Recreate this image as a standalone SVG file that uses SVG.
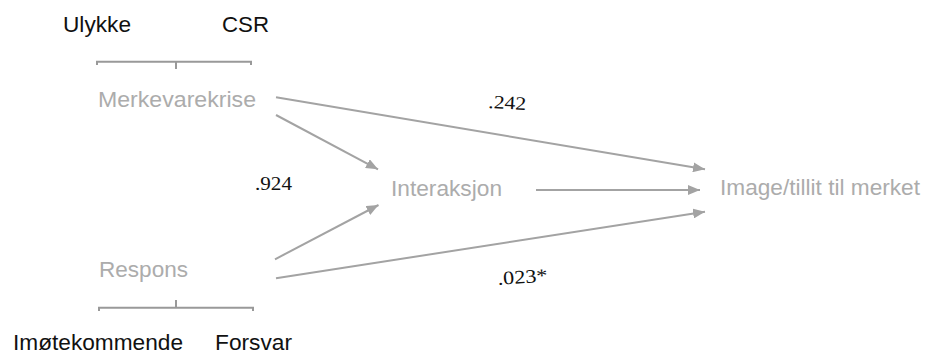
<svg xmlns="http://www.w3.org/2000/svg" width="925" height="355" viewBox="0 0 925 355">
<style>
.lbl{font-family:"Liberation Sans",Arial,sans-serif;font-size:21.5px;}
.blk{fill:#111111;}
.gry{fill:#acacac;}
.num{font-family:"Liberation Serif","Times New Roman",serif;font-size:19px;fill:#111111;}
.con{stroke:#a3a3a3;stroke-width:2;fill:none;}
.br{stroke:#999999;stroke-width:2;fill:none;}
</style>
<defs>
<marker id="ah" viewBox="0 0 12 10" refX="12" refY="5" markerWidth="12" markerHeight="10" markerUnits="userSpaceOnUse" orient="auto">
<path d="M0,0 L12,5 L0,10 Z" fill="#a3a3a3"/>
</marker>
</defs>
<rect width="925" height="355" fill="#ffffff"/>
<g id="scale-top">
<text class="lbl blk" x="63" y="32" textLength="68" lengthAdjust="spacingAndGlyphs">Ulykke</text>
<text class="lbl blk" x="222" y="32" textLength="47" lengthAdjust="spacingAndGlyphs">CSR</text>
<path class="br" d="M97,65 V61.7 H251 V65 M176,61.7 V69"/>
</g>
<g id="merkevarekrise">
<text class="lbl gry" x="98" y="107" textLength="158" lengthAdjust="spacingAndGlyphs">Merkevarekrise</text>
</g>
<g id="interaksjon">
<text class="lbl gry" x="391" y="196" textLength="111" lengthAdjust="spacingAndGlyphs">Interaksjon</text>
</g>
<g id="image">
<text class="lbl gry" x="720" y="195" textLength="200" lengthAdjust="spacingAndGlyphs">Image/tillit til merket</text>
</g>
<g id="respons">
<text class="lbl gry" x="99" y="277" textLength="89" lengthAdjust="spacingAndGlyphs">Respons</text>
</g>
<g id="scale-bottom">
<path class="br" d="M99,311 V307.7 H253 V311 M176,307.7 V300"/>
<text class="lbl blk" x="13" y="350" textLength="170" lengthAdjust="spacingAndGlyphs">Imøtekommende</text>
<text class="lbl blk" x="215" y="350" textLength="77" lengthAdjust="spacingAndGlyphs">Forsvar</text>
</g>
<g id="connectors">
<line class="con" x1="276" y1="97.3" x2="705" y2="169.3" marker-end="url(#ah)"/>
<line class="con" x1="276" y1="115" x2="378" y2="169.3" marker-end="url(#ah)"/>
<line class="con" x1="275" y1="259.3" x2="378.5" y2="205" marker-end="url(#ah)"/>
<line class="con" x1="536" y1="190" x2="700" y2="190" marker-end="url(#ah)"/>
<line class="con" x1="276" y1="278.3" x2="705" y2="211.7" marker-end="url(#ah)"/>
</g>
<g id="coefficients">
<text class="num" x="488" y="108" textLength="38" lengthAdjust="spacingAndGlyphs" transform="rotate(3 488 108)">.242</text>
<text class="num" x="255" y="190" textLength="37" lengthAdjust="spacingAndGlyphs">.924</text>
<text class="num" x="498" y="285" textLength="50" lengthAdjust="spacingAndGlyphs" transform="rotate(-4 498 285)">.023*</text>
</g>
</svg>
